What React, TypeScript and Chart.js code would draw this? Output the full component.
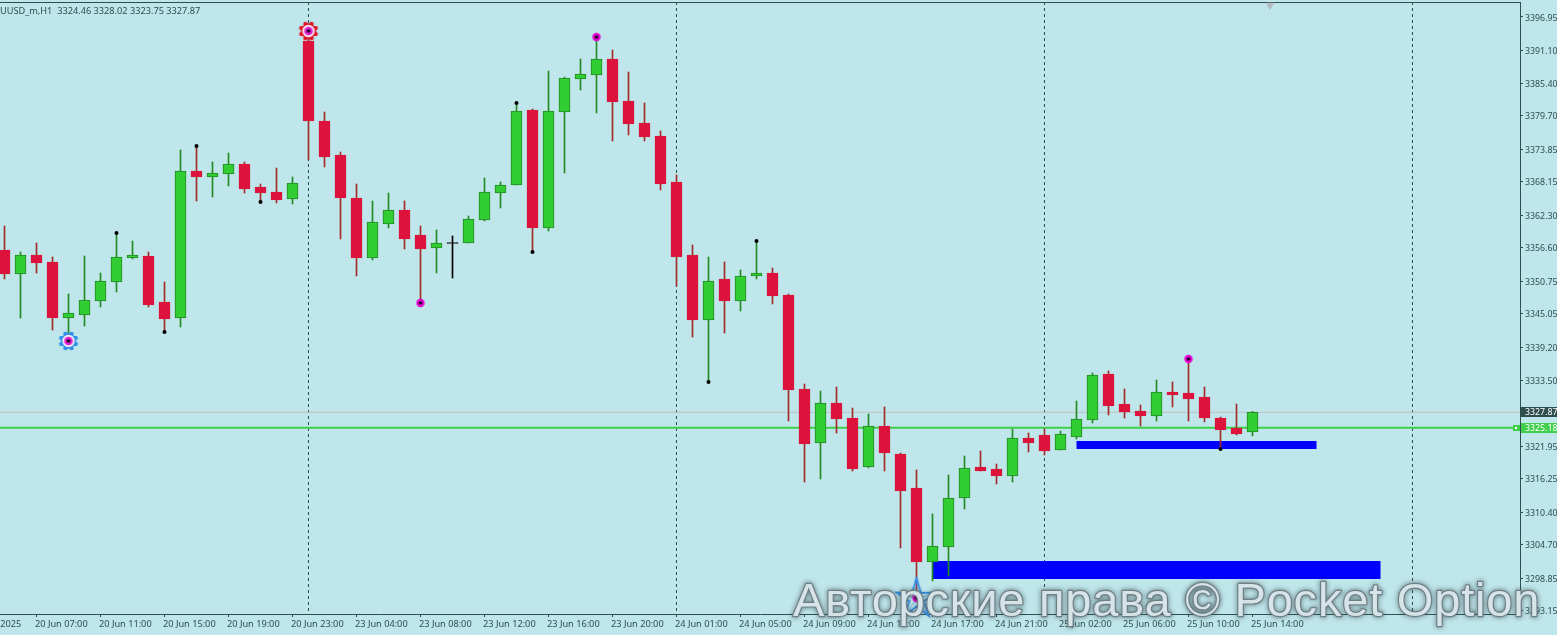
import React, { useEffect, useRef } from "react";
import Chart from "chart.js/auto";

const HEADER = "UUSD_m,H1  3324.46 3328.02 3323.75 3327.87";
const WATERMARK = "Авторские права © Pocket Option";

// One entry per hourly candle, oldest first
const opens = [
  3356.23, 3352.04, 3355.36, 3354.14, 3344.35, 3344.87, 3347.32, 3350.64, 3354.83, 3355.18,
  3347.15, 3344.35, 3370.04, 3368.99, 3369.51, 3371.26, 3367.24, 3366.37, 3365.15, 3392.76,
  3378.78, 3372.83, 3365.32, 3354.83, 3360.78, 3363.22, 3358.85, 3356.58, 3357.54, 3357.46,
  3361.48, 3366.19, 3367.59, 3380.70, 3360.08, 3380.35, 3386.11, 3386.81, 3389.61, 3382.27,
  3378.43, 3376.15, 3368.12, 3355.36, 3344.00, 3351.17, 3347.32, 3351.69, 3352.21, 3348.37,
  3331.94, 3322.51, 3329.50, 3326.87, 3318.31, 3325.48, 3320.58, 3314.64, 3301.71, 3304.33,
  3312.89, 3318.31, 3317.96, 3316.74, 3323.38, 3323.90, 3321.28, 3323.55, 3326.52, 3334.56,
  3329.32, 3328.10, 3327.22, 3331.42, 3331.24, 3330.54, 3326.87, 3325.13, 3324.46,
];
const highs = [
  3360.43, 3355.88, 3357.46, 3355.01, 3348.54, 3355.18, 3352.21, 3359.20, 3357.81, 3355.88,
  3350.64, 3373.71, 3374.41, 3371.61, 3373.18, 3371.61, 3367.77, 3370.56, 3368.99, 3394.50,
  3380.35, 3373.36, 3367.77, 3364.80, 3366.19, 3364.80, 3360.43, 3359.73, 3358.68, 3362.17,
  3368.81, 3368.12, 3381.92, 3380.87, 3387.51, 3386.46, 3389.61, 3393.45, 3391.18, 3387.34,
  3381.92, 3377.03, 3369.34, 3357.11, 3355.01, 3354.14, 3352.74, 3357.81, 3353.09, 3348.54,
  3332.82, 3331.59, 3332.29, 3328.62, 3327.57, 3328.80, 3320.76, 3317.79, 3310.10, 3316.91,
  3320.23, 3321.11, 3318.84, 3324.95, 3324.25, 3324.95, 3324.60, 3329.85, 3334.74, 3335.09,
  3331.94, 3329.15, 3333.52, 3333.17, 3337.19, 3332.29, 3327.05, 3329.32, 3328.02,
];
const lows = [
  3351.17, 3344.35, 3352.21, 3342.25, 3341.38, 3342.95, 3346.27, 3348.89, 3354.66, 3346.27,
  3341.90, 3342.78, 3364.80, 3365.49, 3367.42, 3366.19, 3364.62, 3364.45, 3364.27, 3371.96,
  3370.74, 3358.16, 3351.69, 3354.48, 3360.08, 3356.41, 3346.97, 3352.21, 3351.34, 3357.46,
  3361.30, 3363.57, 3367.59, 3355.88, 3359.55, 3369.69, 3384.19, 3380.17, 3375.28, 3376.33,
  3375.28, 3366.72, 3349.94, 3341.03, 3333.34, 3341.73, 3345.57, 3351.17, 3346.80, 3326.35,
  3315.69, 3316.21, 3324.25, 3317.61, 3318.14, 3317.61, 3304.16, 3295.42, 3298.39, 3299.26,
  3310.97, 3317.61, 3315.34, 3315.69, 3320.93, 3320.41, 3321.28, 3323.20, 3326.00, 3327.40,
  3326.87, 3325.48, 3326.35, 3328.80, 3326.35, 3326.18, 3321.46, 3323.90, 3323.75,
];
const closes = [
  3352.04, 3355.36, 3353.96, 3344.35, 3345.22, 3347.50, 3350.82, 3355.01, 3355.36, 3346.62,
  3344.17, 3370.04, 3368.99, 3369.69, 3371.26, 3366.89, 3366.19, 3364.97, 3367.94, 3378.78,
  3372.48, 3365.32, 3354.83, 3361.13, 3363.22, 3358.16, 3356.41, 3357.46, 3357.38, 3361.65,
  3366.37, 3367.59, 3380.52, 3360.08, 3380.52, 3386.29, 3386.99, 3389.61, 3382.10, 3378.25,
  3375.98, 3367.77, 3355.01, 3344.00, 3350.82, 3347.32, 3351.69, 3352.21, 3348.19, 3331.77,
  3322.33, 3329.50, 3326.70, 3317.96, 3325.48, 3320.76, 3314.12, 3301.71, 3304.51, 3312.89,
  3318.14, 3317.61, 3316.74, 3323.38, 3322.51, 3321.11, 3324.08, 3326.70, 3334.39, 3328.97,
  3327.92, 3327.22, 3331.42, 3330.89, 3330.20, 3326.87, 3324.78, 3324.08, 3327.87,
];

const xTickIndex = [-2, 2, 6, 10, 14, 18, 22, 26, 30, 34, 38, 42, 46, 50, 54, 58, 62, 66, 70, 74, 78];
const xTickLabels = [
  "20 Jun 2025", "20 Jun 07:00", "20 Jun 11:00", "20 Jun 15:00", "20 Jun 19:00", "20 Jun 23:00",
  "23 Jun 04:00", "23 Jun 08:00", "23 Jun 12:00", "23 Jun 16:00", "23 Jun 20:00", "24 Jun 01:00",
  "24 Jun 05:00", "24 Jun 09:00", "24 Jun 13:00", "24 Jun 17:00", "24 Jun 21:00", "25 Jun 02:00",
  "25 Jun 06:00", "25 Jun 10:00", "25 Jun 14:00",
];
const yTicks = [
  3396.95, 3391.1, 3385.4, 3379.7, 3373.85, 3368.15, 3362.3, 3356.6, 3350.75, 3345.05, 3339.2,
  3333.5, 3321.95, 3316.25, 3310.4, 3304.7, 3298.85, 3293.15,
];

const daySeparators = [19, 42, 65, 88];
const ASK_PRICE = 3327.87;
const LINE_PRICE = 3325.18;
const zones = [
  { from: 58, to: 86, hi: 3301.88, lo: 3298.74 },
  { from: 67, to: 82, hi: 3322.86, lo: 3321.46 },
];
const blackDotIdx = [7, 10, 12, 16, 32, 33, 44, 47, 76];
const blackDotPrice = [3359.2, 3341.9, 3374.41, 3364.62, 3381.92, 3355.88, 3333.17, 3357.81, 3321.46];
const magentaDotIdx = [26, 37, 74];
const magentaDotPrice = [3346.97, 3393.45, 3337.19];
const redSun = { idx: 19, price: 3394.5 };
const blueSun = { idx: 4, price: 3340.33 };
const starMark = { idx: 57, price: 3295.25 };
const dotUnderStar = { idx: 57, price: 3295.42 };
const shiftMark = { idx: 79.1, price: 3399.0 };

const BG = "#BFE6EB";
const AXIS = "#2F4F4F";
const RED = "#DC143C";
const GREEN = "#32CD32";
const GREEN_EDGE = "#228B22";
const RED_WICK = "#A52A2A";
const LIME = "#3FCF4A";
const FONT = '"Noto Sans", "Liberation Sans", sans-serif';

function makeSun(color: string) {
  const c = document.createElement("canvas");
  c.width = 22;
  c.height = 22;
  const g = c.getContext("2d")!;
  g.translate(11, 11);
  g.fillStyle = color;
  for (let k = 0; k < 8; k++) {
    g.save();
    g.rotate((k * Math.PI) / 4 + Math.PI / 8);
    g.beginPath();
    g.moveTo(-3.2, -5.5);
    g.lineTo(-1.4, -9.8);
    g.lineTo(1.4, -9.8);
    g.lineTo(3.2, -5.5);
    g.closePath();
    g.fill();
    g.restore();
  }
  g.beginPath();
  g.arc(0, 0, 7.4, 0, Math.PI * 2);
  g.fill();
  g.fillStyle = "#F4E9F2";
  g.beginPath();
  g.arc(0, 0, 6.2, 0, Math.PI * 2);
  g.fill();
  g.fillStyle = "#E020D0";
  g.beginPath();
  g.arc(0, 0, 4.3, 0, Math.PI * 2);
  g.fill();
  g.fillStyle = "#14061A";
  g.beginPath();
  g.arc(0, 0, 1.8, 0, Math.PI * 2);
  g.fill();
  return c;
}

function makeStar() {
  const c = document.createElement("canvas");
  c.width = 46;
  c.height = 46;
  const g = c.getContext("2d")!;
  g.translate(23, 23);
  const outer: number[][] = [];
  for (let k = 0; k < 5; k++) {
    const a = -Math.PI / 2 + (k * 2 * Math.PI) / 5;
    outer.push([Math.cos(a) * 21, Math.sin(a) * 21]);
  }
  const inner: number[][] = [];
  for (let k = 0; k < 5; k++) {
    const a = -Math.PI / 2 + Math.PI / 5 + (k * 2 * Math.PI) / 5;
    inner.push([Math.cos(a) * 7.5, Math.sin(a) * 7.5]);
  }
  g.strokeStyle = "#2F8FE8";
  g.lineWidth = 1.8;
  g.beginPath();
  for (let k = 0; k < 5; k++) {
    const o = outer[k];
    const n = inner[k];
    if (k === 0) g.moveTo(o[0], o[1]);
    else g.lineTo(o[0], o[1]);
    g.lineTo(n[0], n[1]);
  }
  g.closePath();
  g.stroke();
  g.strokeStyle = "rgba(47,143,232,0.6)";
  g.lineWidth = 1;
  for (let k = 0; k < 5; k++) {
    const o = outer[k];
    g.beginPath();
    g.moveTo(0, 0);
    g.lineTo(o[0], o[1]);
    g.stroke();
  }
  return c;
}

function makeMagenta() {
  const c = document.createElement("canvas");
  c.width = 10;
  c.height = 10;
  const g = c.getContext("2d")!;
  g.fillStyle = "#E600D6";
  g.beginPath();
  g.arc(5, 5, 4.2, 0, Math.PI * 2);
  g.fill();
  g.fillStyle = "#14061A";
  g.beginPath();
  g.arc(5, 5, 1.8, 0, Math.PI * 2);
  g.fill();
  return c;
}

const chartDecor = {
  id: "chartDecor",
  beforeDraw(chart: any) {
    const ctx = chart.ctx;
    ctx.save();
    ctx.fillStyle = BG;
    ctx.fillRect(0, 0, chart.width, chart.height);
    ctx.restore();
  },
  beforeDatasetsDraw(chart: any) {
    const { ctx, chartArea: a, scales } = chart;
    const x = scales.x;
    const y = scales.y;
    ctx.save();
    ctx.fillStyle = AXIS;
    ctx.fillRect(a.left, a.top, a.right - a.left, 1);
    ctx.strokeStyle = AXIS;
    ctx.lineWidth = 1;
    ctx.setLineDash([3, 3]);
    daySeparators.forEach((d) => {
      const px = Math.floor(x.getPixelForValue(d)) + 0.5;
      ctx.beginPath();
      ctx.moveTo(px, a.top);
      ctx.lineTo(px, a.bottom);
      ctx.stroke();
    });
    ctx.setLineDash([]);
    ctx.fillStyle = "#0000FF";
    zones.forEach((z) => {
      const x0 = x.getPixelForValue(z.from);
      const x1 = x.getPixelForValue(z.to);
      const y0 = Math.round(y.getPixelForValue(z.hi));
      const y1 = Math.round(y.getPixelForValue(z.lo));
      ctx.fillRect(x0, y0, x1 - x0, y1 - y0);
    });
    ctx.restore();
  },
  afterDatasetsDraw(chart: any) {
    const { ctx, chartArea: a, scales } = chart;
    const y = scales.y;
    ctx.save();
    ctx.font = `9.2px ${FONT}`;
    ctx.fillStyle = AXIS;
    ctx.textBaseline = "alphabetic";
    ctx.textAlign = "left";
    ctx.fillText(HEADER, 0, 14);

    const px = Math.round(y.getPixelForValue(LINE_PRICE));
    ctx.fillStyle = LIME;
    ctx.fillRect(a.right - 7, px - 3, 7, 6);
    ctx.fillStyle = "#FFFFFF";
    ctx.fillRect(a.right - 5, px - 1, 2, 2);

    ctx.font = `8.8px ${FONT}`;
    const boxes = [
      { v: ASK_PRICE, fill: AXIS },
      { v: LINE_PRICE, fill: LIME },
    ];
    boxes.forEach((b) => {
      const cy = Math.round(y.getPixelForValue(b.v));
      ctx.fillStyle = b.fill;
      ctx.fillRect(a.right + 1, cy - 5, chart.width - a.right - 1, 10);
      ctx.fillStyle = "#FFFFFF";
      ctx.textBaseline = "middle";
      ctx.fillText(b.v.toFixed(2), a.right + 5, cy + 0.5);
    });
    ctx.restore();
  },
  afterDraw(chart: any) {
    const { ctx } = chart;
    ctx.save();
    ctx.font = `47px "Liberation Sans", Arial, sans-serif`;
    (ctx as any).letterSpacing = "0.8px";
    ctx.textAlign = "left";
    ctx.textBaseline = "alphabetic";
    ctx.lineJoin = "round";
    ctx.shadowColor = "rgba(50,65,70,0.85)";
    ctx.shadowBlur = 5;
    ctx.strokeStyle = "rgba(110,125,131,0.95)";
    ctx.lineWidth = 2.4;
    ctx.strokeText(WATERMARK, 793, 616);
    ctx.shadowBlur = 0;
    ctx.fillStyle = "rgba(222,236,241,0.92)";
    ctx.fillText(WATERMARK, 793, 616);
    ctx.restore();
  },
};

export default function App() {
  const ref = useRef<HTMLCanvasElement | null>(null);
  useEffect(() => {
    const canvas = ref.current!;
    const isUp = (i: number) => closes[i] > opens[i];
    const isFlat = (i: number) => i === 28;
    const chart = new Chart(canvas, {
      type: "bar",
      plugins: [chartDecor],
      data: {
        datasets: [
          {
            type: "line",
            label: "Star",
            order: 1,
            clip: false as any,
            showLine: false,
            pointStyle: makeMagenta() as any,
            pointRadius: 5,
            data: [{ x: dotUnderStar.idx, y: dotUnderStar.price }],
          },
          {
            type: "line",
            label: "Star outline",
            order: 2,
            clip: false as any,
            showLine: false,
            pointStyle: makeStar() as any,
            pointRadius: 20,
            data: [{ x: starMark.idx, y: starMark.price }],
          },
          {
            type: "line",
            label: "Signals high",
            order: 1,
            clip: false as any,
            showLine: false,
            pointStyle: makeMagenta() as any,
            pointRadius: 5,
            data: magentaDotIdx.map((x, i) => ({ x, y: magentaDotPrice[i] })),
          },
          {
            type: "line",
            label: "Fractals",
            order: 1,
            showLine: false,
            pointStyle: "circle",
            pointRadius: 2,
            pointBorderWidth: 0,
            pointBackgroundColor: "#000000",
            data: blackDotIdx.map((x, i) => ({ x, y: blackDotPrice[i] })),
          },
          {
            type: "line",
            label: "Red sun",
            order: 1,
            showLine: false,
            pointStyle: makeSun("#E01528") as any,
            pointRadius: 10,
            data: [{ x: redSun.idx, y: redSun.price }],
          },
          {
            type: "line",
            label: "Blue sun",
            order: 1,
            showLine: false,
            pointStyle: makeSun("#2F8FE8") as any,
            pointRadius: 10,
            data: [{ x: blueSun.idx, y: blueSun.price }],
          },
          {
            type: "line",
            label: "Shift",
            order: 1,
            clip: false as any,
            showLine: false,
            pointStyle: "triangle",
            pointRotation: 180,
            pointRadius: 5,
            pointBorderWidth: 0,
            pointBackgroundColor: "#B4BEC2",
            data: [{ x: shiftMark.idx, y: shiftMark.price }],
          },
          {
            label: "Bodies",
            order: 3,
            grouped: false,
            barThickness: 11,
            borderWidth: 1,
            borderSkipped: false,
            backgroundColor: (c: any) =>
              isFlat(c.dataIndex) ? "#000000" : isUp(c.dataIndex) ? GREEN : RED,
            borderColor: (c: any) =>
              isFlat(c.dataIndex) ? "#000000" : isUp(c.dataIndex) ? GREEN_EDGE : RED,
            data: opens.map((o, i) => ({
              x: i,
              y: [Math.min(o, closes[i]), Math.max(o, closes[i])],
            })),
          } as any,
          {
            label: "Wicks",
            order: 4,
            grouped: false,
            barThickness: 1,
            borderWidth: 0,
            backgroundColor: (c: any) =>
              isFlat(c.dataIndex) ? "#000000" : isUp(c.dataIndex) ? GREEN_EDGE : RED_WICK,
            data: highs.map((h, i) => ({ x: i, y: [lows[i], h] })),
          } as any,
          {
            type: "line",
            label: "Price line",
            order: 8,
            borderColor: LIME,
            borderWidth: 2,
            pointRadius: 0,
            data: [
              { x: -1, y: LINE_PRICE },
              { x: 96, y: LINE_PRICE },
            ],
          },
          {
            type: "line",
            label: "Bid line",
            order: 9,
            borderColor: "#C0C0C0",
            borderWidth: 1,
            pointRadius: 0,
            data: [
              { x: -1, y: ASK_PRICE },
              { x: 96, y: ASK_PRICE },
            ],
          },
        ] as any,
      },
      options: {
        responsive: false,
        animation: false,
        devicePixelRatio: 1,
        layout: { autoPadding: false, padding: { top: 2, left: 0, right: 0, bottom: 0 } },
        plugins: { legend: { display: false }, tooltip: { enabled: false } },
        scales: {
          x: {
            type: "linear",
            offset: false,
            min: -0.28125,
            max: 94.71875,
            afterBuildTicks: (s: any) => {
              s.ticks = xTickIndex.map((value) => ({ value }));
            },
            afterFit: (s: any) => {
              s.height = 21;
              s.paddingLeft = 0;
              s.paddingRight = 0;
            },
            border: { display: true, color: AXIS, width: 1 },
            grid: { offset: false, drawOnChartArea: false, tickLength: 3, tickColor: AXIS },
            ticks: {
              autoSkip: false,
              maxRotation: 0,
              minRotation: 0,
              align: "start",
              labelOffset: -1.5,
              padding: 2,
              color: AXIS,
              font: { family: FONT, size: 9.2 },
              callback: (_v: any, i: number) => xTickLabels[i],
            },
          },
          y: {
            type: "linear",
            position: "right",
            min: 3292.62,
            max: 3399.57,
            afterBuildTicks: (s: any) => {
              s.ticks = yTicks.map((value) => ({ value }));
            },
            afterFit: (s: any) => {
              s.width = 37;
              s.paddingTop = 0;
              s.paddingBottom = 0;
            },
            border: { display: true, color: AXIS, width: 1 },
            grid: { drawOnChartArea: false, tickLength: 3, tickColor: AXIS },
            ticks: {
              autoSkip: false,
              crossAlign: "near",
              padding: 2,
              labelOffset: 1,
              color: AXIS,
              font: { family: FONT, size: 8.8 },
              callback: (v: any) => Number(v).toFixed(2),
            },
          },
        },
      } as any,
    });
    return () => chart.destroy();
  }, []);
  return (
    <div style={{ position: "fixed", left: 0, top: 0, width: 1557, height: 635, overflow: "hidden", background: BG }}>
      <canvas ref={ref} width={1557} height={635} style={{ display: "block", width: 1557, height: 635 }} />
    </div>
  );
}
